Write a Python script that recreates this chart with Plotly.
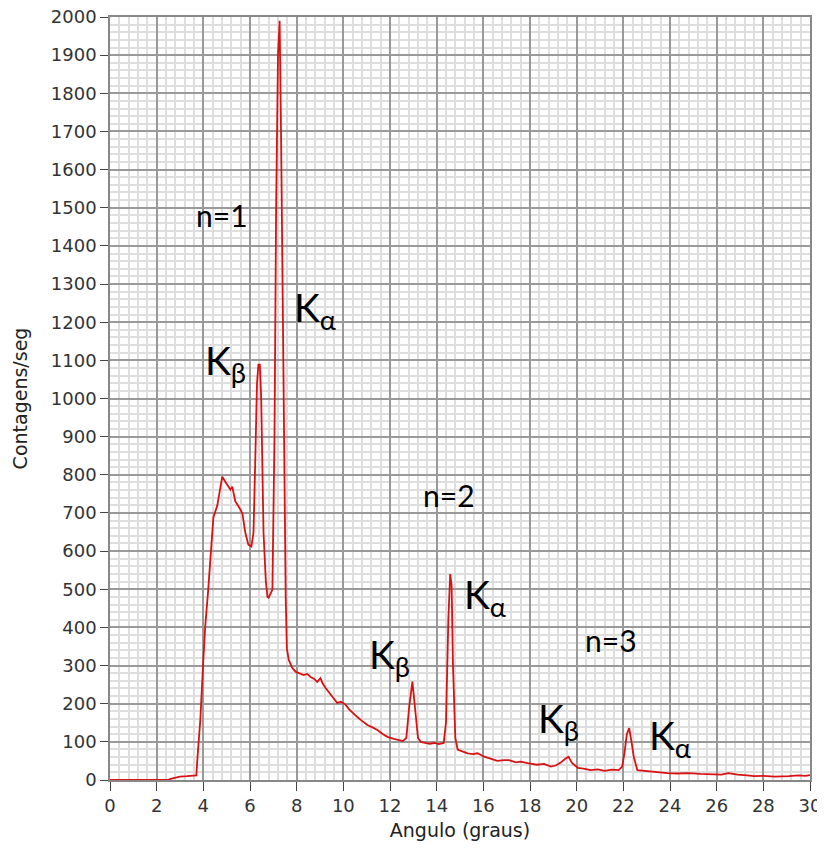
import plotly.graph_objects as go

angle = [0, 0.5, 1.0, 1.5, 2.0, 2.5, 2.6, 2.8, 3.0, 3.3, 3.6, 3.7, 3.75, 3.87, 4.0, 4.08, 4.21, 4.43, 4.6,
         4.81, 4.94, 5.05, 5.16, 5.24, 5.37, 5.5, 5.67, 5.8, 5.93, 6.06, 6.15, 6.23, 6.3, 6.36, 6.42, 6.48,
         6.58, 6.68, 6.75, 6.8, 6.9, 6.96, 7.05, 7.12, 7.2, 7.27, 7.33, 7.4, 7.48, 7.53, 7.58, 7.66, 7.8,
         7.95, 8.1, 8.3, 8.45, 8.6, 8.75, 8.88, 9.02, 9.1, 9.24, 9.4, 9.52, 9.74, 9.9, 10.1, 10.25, 10.39,
         10.6, 10.8, 11.03, 11.25, 11.46, 11.7, 11.89, 12.17, 12.4, 12.55, 12.7, 12.82, 12.96, 13.08, 13.2,
         13.32, 13.5, 13.7, 13.9, 14.1, 14.3, 14.4, 14.5, 14.58, 14.64, 14.7, 14.8, 14.9, 15.1, 15.33,
         15.55, 15.75, 16.04, 16.33, 16.6, 16.9, 17.1, 17.4, 17.6, 17.9, 18.3, 18.6, 18.9, 19.1, 19.3,
         19.5, 19.65, 19.8, 20.05, 20.3, 20.6, 20.9, 21.2, 21.5, 21.8, 21.95, 22.05, 22.15, 22.25, 22.35,
         22.45, 22.6, 22.9, 23.3, 23.6, 23.9, 24.3, 24.8, 25.3, 25.8, 26.2, 26.5, 26.9, 27.3, 27.6, 28.0,
         28.5, 29.1, 29.5, 29.8, 30.0]
counts = [0, 0, 0, 0, 0, 0, 3, 6, 9, 10, 11, 12, 60, 157, 315, 402, 499, 688, 720,
          795, 782, 770, 761, 769, 730, 718, 700, 648, 617, 612, 648, 850, 1040, 1089, 1089, 1000,
          648, 520, 480, 478, 490, 499, 900, 1500, 1900, 1990, 1700, 1250, 780, 480, 345, 315, 295,
          284, 280, 275, 278, 270, 265, 257, 267, 255, 241, 228, 218, 202, 205, 197, 185, 176,
          165, 155, 144, 138, 131, 120, 113, 108, 104, 102, 110, 190, 258, 180, 110,
          100, 97, 95, 97, 94, 97, 150, 420, 540, 510, 300, 110, 80, 75, 70,
          68, 70, 61, 55, 50, 52, 52, 46, 48, 44, 40, 42, 35, 38, 45,
          55, 61, 45, 32, 30, 26, 28, 24, 27, 26, 35, 71, 120, 136, 100,
          60, 26, 24, 21, 20, 18, 17, 18, 16, 15, 14, 18, 14, 12, 10, 11,
          9, 10, 12, 11, 13]

# annotation labels
order_labels = ["n=1", "n=2", "n=3"]
order_x = [4.8, 14.53, 21.47]
order_y = [1480, 748, 367]
k_labels = ["K<sub>β</sub>", "K<sub>α</sub>", "K<sub>β</sub>", "K<sub>α</sub>", "K<sub>β</sub>", "K<sub>α</sub>"]
k_x = [4.0, 7.8, 11.0, 15.08, 18.25, 23.0]
k_y = [1092, 1231, 323, 480, 155, 110]

fig = go.Figure()
fig.add_trace(go.Scatter(x=angle, y=counts, mode="lines",
                         line=dict(color="#d81212", width=1.8), showlegend=False))

for t, x, y in zip(order_labels, order_x, order_y):
    fig.add_annotation(x=x, y=y, text=t, showarrow=False, xanchor="center", yanchor="middle",
                       font=dict(family="Lato", size=30, color="black"))
for t, x, y in zip(k_labels, k_x, k_y):
    fig.add_annotation(x=x, y=y, text=t, showarrow=False, xanchor="left", yanchor="middle",
                       font=dict(family="Lato", size=39, color="black"))

axis_font = dict(family="DejaVu Sans", size=18, color="#333")
title_font = dict(family="DejaVu Sans", size=19, color="#222")
fig.update_xaxes(range=[0, 30], dtick=2, tick0=0, showgrid=True, gridcolor="#9a9a9a", gridwidth=1.5,
                 minor=dict(dtick=0.4, showgrid=True, gridcolor="#dedede", gridwidth=1.5),
                 showline=True, linecolor="#888", linewidth=1.5, mirror=True,
                 ticks="outside", ticklen=9, tickcolor="#444", tickfont=axis_font,
                 ticklabeloverflow="allow",
                 title=dict(text="Angulo (graus)", font=title_font, standoff=8),
                 zeroline=False, automargin=False)
fig.update_yaxes(range=[0, 2000], dtick=100, tick0=0, showgrid=True, gridcolor="#9a9a9a", gridwidth=1.5,
                 minor=dict(dtick=20, showgrid=True, gridcolor="#dedede", gridwidth=1.5),
                 showline=True, linecolor="#888", linewidth=1.5, mirror=True,
                 ticks="outside", ticklen=8, tickcolor="#444", tickfont=axis_font,
                 ticklabeloverflow="allow",
                 title=dict(text="Contagens/seg", font=title_font, standoff=18),
                 zeroline=False, automargin=False)
# page body adds an 8px offset, so the figure is sized to fill the rest of the window
fig.update_layout(width=817, height=842, plot_bgcolor="white", paper_bgcolor="white",
                  margin=dict(l=102, r=15, t=9, b=70))
fig.write_html("out.html")
